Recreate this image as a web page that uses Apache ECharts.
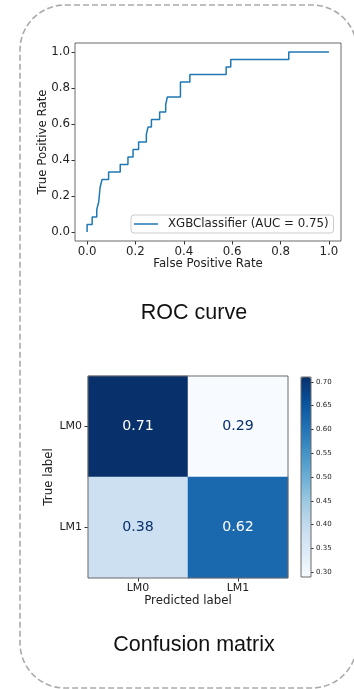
<!DOCTYPE html>
<html>
<head>
<meta charset="utf-8">
<script src="https://cdn.jsdelivr.net/npm/echarts@6/dist/echarts.min.js"></script>
<style>
  html, body { margin: 0; padding: 0; background: #fff; }
  #chart { width: 354px; height: 689px; }
</style>
</head>
<body>
<div id="chart"></div>
<script>
// ROC curve of the XGB classifier: false / true positive rates at each threshold
const fpr = [0, 0, 0.021, 0.040, 0.048, 0.054, 0.062, 0.089, 0.137, 0.169, 0.190, 0.213,
             0.245, 0.252, 0.266, 0.300, 0.325, 0.332, 0.386, 0.425, 0.575, 0.594, 0.834, 1.0];
const tpr = [0, 0.042, 0.083, 0.125, 0.167, 0.250, 0.292, 0.333, 0.375, 0.417, 0.458, 0.500,
             0.542, 0.583, 0.625, 0.667, 0.708, 0.750, 0.833, 0.875, 0.917, 0.958, 1.0, 1.0];
const rocName = 'XGBClassifier (AUC = 0.75)';
const rocTicks = [0, 0.2, 0.4, 0.6, 0.8, 1.0];

// Normalised confusion matrix (rows: true label, columns: predicted label)
const classes = ['LM0', 'LM1'];
const matrix = [
  [0.71, 0.29],
  [0.38, 0.62]
];
const colorbarTicks = [0.30, 0.35, 0.40, 0.45, 0.50, 0.55, 0.60, 0.65, 0.70];

// matplotlib "Blues" colormap stops
const blues = ['#f7fbff', '#deebf7', '#c6dbef', '#9ecae1', '#6baed6',
               '#4292c6', '#2171b5', '#08519c', '#08306b'];

const FONT = 'DejaVu Sans';
const FS = 11.8;
const TXT = '#222';
const SPINE = '#6a6a6a';

const flat = matrix.flat();
const vmin = Math.min(...flat);
const vmax = Math.max(...flat);
const mid = (vmin + vmax) / 2;

const rocData = fpr.map((x, i) => [x, tpr[i]]);
const heatData = [];
matrix.forEach((row, r) => row.forEach((v, c) => {
  heatData.push({
    value: [c, r, v],
    label: { color: v > mid ? '#ffffff' : '#08306b' }
  });
}));

const nameStyle = { fontFamily: FONT, fontSize: FS, color: TXT };
const tickStyle = { color: '#333', width: 1 };

const chart = echarts.init(document.getElementById('chart'), null, { renderer: 'canvas' });

chart.setOption({
  animation: false,
  backgroundColor: '#ffffff',
  grid: [
    { left: 75, top: 43, width: 266, height: 198, show: true, borderColor: SPINE, borderWidth: 1,
      backgroundColor: 'transparent', z: 3 },
    { left: 88, top: 376, width: 200, height: 202, show: true, borderColor: SPINE, borderWidth: 1,
      backgroundColor: 'transparent', z: 3 },
    { left: 301, top: 377, width: 10, height: 200, show: true, borderColor: SPINE, borderWidth: 1,
      backgroundColor: 'transparent', z: 10 }
  ],
  xAxis: [
    {
      gridIndex: 0, type: 'value', min: -0.05, max: 1.05,
      name: 'False Positive Rate', nameLocation: 'middle', nameGap: 17, nameMoveOverlap: false,
      nameTextStyle: nameStyle,
      axisLine: { show: false, onZero: false },
      axisTick: { show: true, length: 3.5, customValues: rocTicks, lineStyle: tickStyle },
      axisLabel: { customValues: rocTicks, margin: 5, fontFamily: FONT, fontSize: FS, color: TXT,
                   formatter: v => v.toFixed(1) },
      splitLine: { show: false }
    },
    {
      gridIndex: 1, type: 'category', data: classes,
      name: 'Predicted label', nameLocation: 'middle', nameGap: 17, nameMoveOverlap: false,
      nameTextStyle: nameStyle,
      axisLine: { show: false, onZero: false },
      axisTick: { show: true, alignWithLabel: true, length: 3.5, lineStyle: tickStyle },
      axisLabel: { margin: 5, fontFamily: FONT, fontSize: 11, color: TXT },
      splitLine: { show: false }, splitArea: { show: false }
    },
    { gridIndex: 2, type: 'value', min: 0, max: 1, show: false }
  ],
  yAxis: [
    {
      gridIndex: 0, type: 'value', min: -0.05, max: 1.05,
      name: 'True Positive Rate', nameLocation: 'middle', nameGap: 26, nameMoveOverlap: false,
      nameTextStyle: nameStyle,
      axisLine: { show: false, onZero: false },
      axisTick: { show: true, length: 3.5, customValues: rocTicks, lineStyle: tickStyle },
      axisLabel: { customValues: rocTicks, margin: 5, fontFamily: FONT, fontSize: FS, color: TXT,
                   formatter: v => v.toFixed(1) },
      splitLine: { show: false }
    },
    {
      gridIndex: 1, type: 'category', data: classes, inverse: true,
      name: 'True label', nameLocation: 'middle', nameGap: 33, nameMoveOverlap: false,
      nameTextStyle: nameStyle,
      axisLine: { show: false, onZero: false },
      axisTick: { show: true, alignWithLabel: true, length: 3.5, lineStyle: tickStyle },
      axisLabel: { margin: 6, fontFamily: FONT, fontSize: 11, color: TXT },
      splitLine: { show: false }, splitArea: { show: false }
    },
    {
      gridIndex: 2, type: 'value', min: vmin, max: vmax, position: 'right',
      axisLine: { show: false, onZero: false },
      axisTick: { show: true, length: 2.5, customValues: colorbarTicks, lineStyle: tickStyle },
      axisLabel: { customValues: colorbarTicks, margin: 5, fontFamily: FONT, fontSize: 7, color: TXT,
                   formatter: v => v.toFixed(2) },
      splitLine: { show: false }
    }
  ],
  visualMap: {
    type: 'continuous', seriesIndex: 1, min: vmin, max: vmax,
    inRange: { color: blues },
    calculable: false, orient: 'vertical',
    left: 301, top: 377, itemWidth: 10, itemHeight: 200, padding: 0, z: 1
  },
  legend: {
    data: [rocName], left: 131, top: 215, orient: 'horizontal',
    icon: 'rect', itemWidth: 24, itemHeight: 1.5, selectedMode: false,
    padding: [3, 5, 3, 3],
    backgroundColor: 'rgba(255,255,255,0.8)', borderColor: '#cccccc', borderWidth: 1, borderRadius: 3,
    textStyle: { fontFamily: FONT, fontSize: FS, color: TXT, padding: [0, 0, 0, 5] }
  },
  series: [
    {
      name: rocName, type: 'line', xAxisIndex: 0, yAxisIndex: 0,
      data: rocData, step: 'end', showSymbol: false, symbol: 'none',
      lineStyle: { color: '#1f77b4', width: 1.5 }, itemStyle: { color: '#1f77b4' },
      z: 2
    },
    {
      name: 'confusion', type: 'heatmap', xAxisIndex: 1, yAxisIndex: 1,
      data: heatData,
      label: { show: true, fontFamily: FONT, fontSize: 14.2, formatter: p => p.value[2].toFixed(2) },
      emphasis: { disabled: true }
    }
  ],
  graphic: [
    {
      type: 'rect', silent: true,
      shape: { x: 20, y: 5, width: 337, height: 683, r: 45 },
      style: { fill: 'none', stroke: '#aaaaaa', lineWidth: 1.6, lineDash: [6, 3] }
    },
    {
      type: 'text', silent: true,
      style: { x: 194, y: 313.5, text: 'ROC curve', align: 'center', verticalAlign: 'middle',
               fontFamily: 'Liberation Sans', fontSize: 21.5, fill: '#111' }
    },
    {
      type: 'text', silent: true,
      style: { x: 194, y: 645, text: 'Confusion matrix', align: 'center', verticalAlign: 'middle',
               fontFamily: 'Liberation Sans', fontSize: 21.5, fill: '#111' }
    }
  ]
});
</script>
</body>
</html>
